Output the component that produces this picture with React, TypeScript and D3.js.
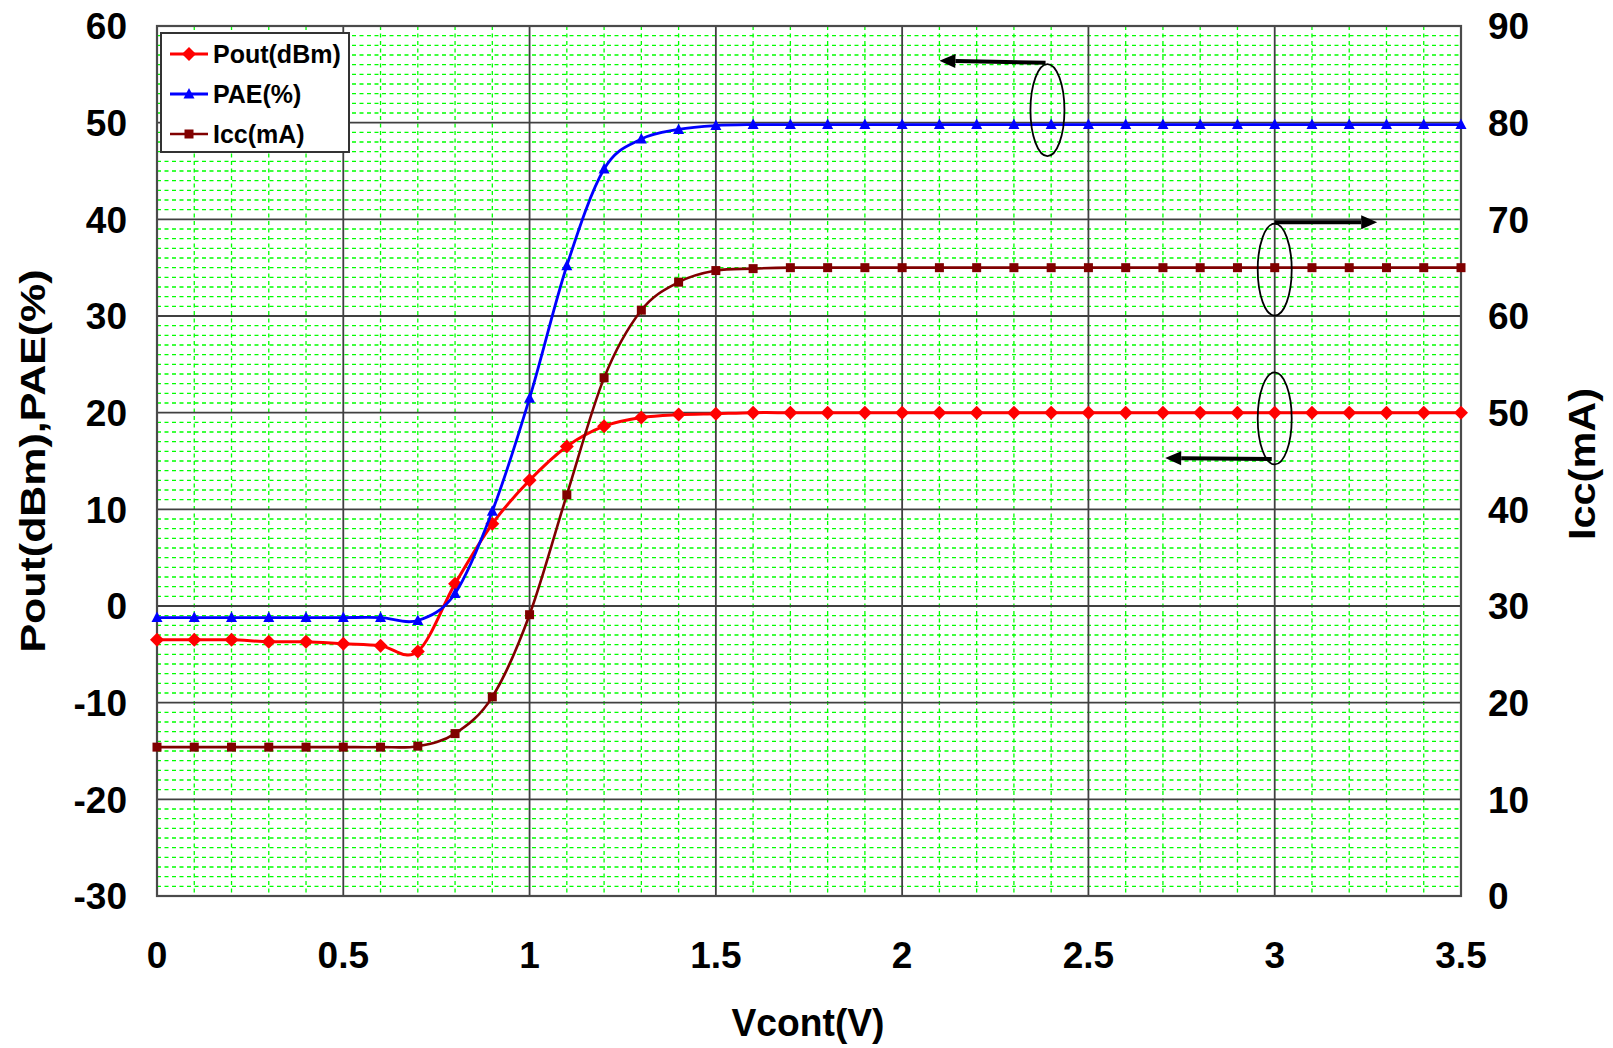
import React, { useRef, useEffect } from 'react';
import * as d3 from 'd3';

const vcont = [0, 0.1, 0.2, 0.3, 0.4, 0.5, 0.6, 0.7, 0.8, 0.9, 1.0, 1.1, 1.2, 1.3, 1.4, 1.5, 1.6, 1.7,
    1.8, 1.9, 2.0, 2.1, 2.2, 2.3, 2.4, 2.5, 2.6, 2.7, 2.8, 2.9, 3.0, 3.1, 3.2, 3.3, 3.4, 3.5];
const poutDbm = [-3.5, -3.5, -3.5, -3.7, -3.7, -3.9, -4.1, -4.7, 2.3, 8.5, 13.0, 16.5, 18.6, 19.5, 19.8, 19.9, 20, 20,
    20, 20, 20, 20, 20, 20, 20, 20, 20, 20, 20, 20, 20, 20, 20, 20, 20, 20];
const paePct = [-1.2, -1.2, -1.2, -1.2, -1.2, -1.2, -1.2, -1.5, 1.3, 9.8, 21.5, 35.2, 45.2, 48.3, 49.3, 49.7, 49.8, 49.8,
    49.8, 49.8, 49.8, 49.8, 49.8, 49.8, 49.8, 49.8, 49.8, 49.8, 49.8, 49.8, 49.8, 49.8, 49.8, 49.8, 49.8, 49.8];
const iccMa = [15.4, 15.4, 15.4, 15.4, 15.4, 15.4, 15.4, 15.5, 16.8, 20.6, 29.1, 41.5, 53.6, 60.6, 63.5, 64.7, 64.9, 65,
    65, 65, 65, 65, 65, 65, 65, 65, 65, 65, 65, 65, 65, 65, 65, 65, 65, 65];

const xTicks = [0, 0.5, 1, 1.5, 2, 2.5, 3, 3.5];
const leftTicks = [-30, -20, -10, 0, 10, 20, 30, 40, 50, 60];
const rightTicks = [0, 10, 20, 30, 40, 50, 60, 70, 80, 90];

const seriesNames = ['Pout(dBm)', 'PAE(%)', 'Icc(mA)'];

// callouts: ellipse around a curve, arrow pointing to its axis (left-axis units)
const callouts = [
    { cx: 2.39, cy: 51.3, x1: 2.385, y1: 56.2, x2: 2.1, y2: 56.4 },
    { cx: 3.0, cy: 34.8, x1: 3.0, y1: 39.7, x2: 3.275, y2: 39.7 },
    { cx: 3.0, cy: 19.4, x1: 2.992, y1: 15.2, x2: 2.706, y2: 15.3 },
];

const FONT = '"Liberation Sans", Arial, sans-serif';

const Chart: React.FC = () => {
    const ref = useRef<SVGSVGElement>(null);

    useEffect(() => {
        if (!ref.current) return;
        const svg = d3.select(ref.current);
        svg.selectAll('*').remove();

        const left = 157, right = 1461, top = 26, bottom = 896;
        const x = d3.scaleLinear().domain([0, 3.5]).range([left, right]);
        const yL = d3.scaleLinear().domain([-30, 60]).range([bottom, top]);
        const yR = d3.scaleLinear().domain([0, 90]).range([bottom, top]);

        svg.append('rect').attr('width', 1613).attr('height', 1048).attr('fill', '#fff');

        // minor grid
        const minor = svg.append('g').attr('stroke', '#00ff00').attr('stroke-width', 1.3)
            .attr('stroke-dasharray', '4,3.5');
        x.ticks(35).filter(v => Math.abs(v * 2 - Math.round(v * 2)) > 1e-6).forEach(v => {
            minor.append('line').attr('x1', x(v)).attr('x2', x(v)).attr('y1', top).attr('y2', bottom);
        });
        yL.ticks(90).filter(v => v % 10 !== 0).forEach(v => {
            minor.append('line').attr('x1', left).attr('x2', right).attr('y1', yL(v)).attr('y2', yL(v));
        });

        // major grid
        const major = svg.append('g').attr('stroke', '#404040').attr('stroke-width', 1.8);
        xTicks.forEach(v => {
            major.append('line').attr('x1', x(v)).attr('x2', x(v)).attr('y1', top).attr('y2', bottom);
        });
        leftTicks.forEach(v => {
            major.append('line').attr('x1', left).attr('x2', right).attr('y1', yL(v)).attr('y2', yL(v));
        });
        svg.append('rect').attr('x', left).attr('y', top).attr('width', right - left).attr('height', bottom - top)
            .attr('fill', 'none').attr('stroke', '#4a4a4a').attr('stroke-width', 2.2);

        // tick labels
        const lab = svg.append('g').attr('font-family', FONT).attr('font-weight', 'bold')
            .attr('font-size', 37).attr('fill', '#000');
        leftTicks.forEach(v => {
            lab.append('text').attr('x', 127).attr('y', yL(v)).attr('dy', '0.36em')
                .attr('text-anchor', 'end').text(v);
        });
        rightTicks.forEach(v => {
            lab.append('text').attr('x', 1488).attr('y', yR(v)).attr('dy', '0.36em')
                .attr('text-anchor', 'start').text(v);
        });
        xTicks.forEach(v => {
            lab.append('text').attr('x', x(v)).attr('y', 968)
                .attr('text-anchor', 'middle').text(v);
        });

        // axis titles
        svg.append('text').attr('x', 808).attr('y', 1036).attr('text-anchor', 'middle')
            .attr('font-family', FONT).attr('font-weight', 'bold').attr('font-size', 39)
            .attr('textLength', 153).attr('lengthAdjust', 'spacingAndGlyphs').text('Vcont(V)');
        svg.append('text').attr('transform', 'translate(45,461) rotate(-90)').attr('text-anchor', 'middle')
            .attr('font-family', FONT).attr('font-weight', 'bold').attr('font-size', 35)
            .attr('textLength', 383).attr('lengthAdjust', 'spacingAndGlyphs').text('Pout(dBm),PAE(%)');
        svg.append('text').attr('transform', 'translate(1595,464) rotate(-90)').attr('text-anchor', 'middle')
            .attr('font-family', FONT).attr('font-weight', 'bold').attr('font-size', 37)
            .attr('textLength', 152).attr('lengthAdjust', 'spacingAndGlyphs').text('Icc(mA)');

        // series
        const curve = d3.curveCatmullRom.alpha(0);
        const diamond = (g: any, cx: number, cy: number, color: string) =>
            g.append('path').attr('d', `M${cx},${cy - 7}L${cx + 7},${cy}L${cx},${cy + 7}L${cx - 7},${cy}Z`)
                .attr('fill', color);
        const triangle = (g: any, cx: number, cy: number, color: string) =>
            g.append('path').attr('d', `M${cx},${cy - 6}L${cx + 5.5},${cy + 4.5}L${cx - 5.5},${cy + 4.5}Z`)
                .attr('fill', color);
        const square = (g: any, cx: number, cy: number, color: string) =>
            g.append('rect').attr('x', cx - 4.5).attr('y', cy - 4.5).attr('width', 9).attr('height', 9)
                .attr('fill', color);

        const series = [
            { values: poutDbm, y: yL, color: '#ff0000', width: 3, marker: diamond },
            { values: paePct, y: yL, color: '#0000ff', width: 2.8, marker: triangle },
            { values: iccMa, y: yR, color: '#800000', width: 2.6, marker: square },
        ];
        series.forEach(s => {
            const pts: [number, number][] = vcont.map((v, i) => [x(v), s.y(s.values[i])]);
            svg.append('path').attr('d', d3.line().curve(curve)(pts))
                .attr('fill', 'none').attr('stroke', s.color).attr('stroke-width', s.width);
            const g = svg.append('g');
            pts.forEach(p => s.marker(g, p[0], p[1], s.color));
        });

        // callouts
        const ann = svg.append('g');
        callouts.forEach(c => {
            ann.append('ellipse').attr('cx', x(c.cx)).attr('cy', yL(c.cy)).attr('rx', 17).attr('ry', 46)
                .attr('fill', 'none').attr('stroke', '#000').attr('stroke-width', 1.8);
            const ax1 = x(c.x1), ay1 = yL(c.y1), ax2 = x(c.x2), ay2 = yL(c.y2);
            const ang = Math.atan2(ay2 - ay1, ax2 - ax1);
            const hl = 16, hw = 7;
            const bx = ax2 - hl * Math.cos(ang), by = ay2 - hl * Math.sin(ang);
            ann.append('line').attr('x1', ax1).attr('y1', ay1).attr('x2', bx).attr('y2', by)
                .attr('stroke', '#000').attr('stroke-width', 4);
            ann.append('path')
                .attr('d', `M${ax2},${ay2}L${bx - hw * Math.sin(ang)},${by + hw * Math.cos(ang)}` +
                    `L${bx + hw * Math.sin(ang)},${by - hw * Math.cos(ang)}Z`)
                .attr('fill', '#000');
        });

        // legend
        const lg = svg.append('g');
        lg.append('rect').attr('x', 161).attr('y', 33).attr('width', 188).attr('height', 119)
            .attr('fill', '#fff').attr('stroke', '#333').attr('stroke-width', 2);
        const legendY = d3.scalePoint().domain(seriesNames).range([54, 134]);
        seriesNames.forEach((name, i) => {
            const ly = legendY(name)!;
            lg.append('line').attr('x1', 170).attr('x2', 208).attr('y1', ly).attr('y2', ly)
                .attr('stroke', series[i].color).attr('stroke-width', series[i].width);
            series[i].marker(lg, 189, ly, series[i].color);
            lg.append('text').attr('x', 213).attr('y', ly).attr('dy', '0.36em')
                .attr('font-family', FONT).attr('font-weight', 'bold').attr('font-size', 25)
                .text(name);
        });
    }, []);

    return <svg ref={ref} width={1613} height={1048} style={{ position: 'absolute', left: 0, top: 0 }} />;
};

export default function App() {
    return <Chart />;
}
